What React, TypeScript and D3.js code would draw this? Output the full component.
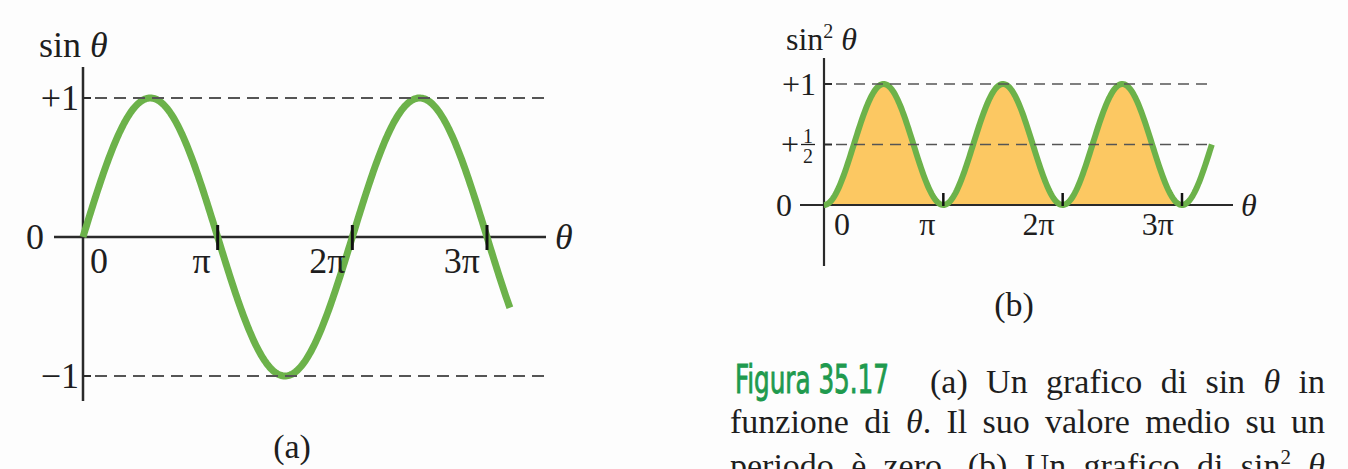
import React, { useLayoutEffect, useRef } from "react";
import * as d3 from "d3";

// Angles are given in multiples of π.
const tickMultiples = [1, 2, 3];
const tickLabels = ["π", "2π", "3π"];
const sinEnd = 3.17;
const sin2End = 3.25;
const sin2FillEnd = 3;
const sinGuideLevels = [1, -1];
const sinGuideLabels = ["+1", "−1"];
const sin2GuideLevels = [1, 0.5];

const captionTitle = "Figura 35.17";
const captionLine1 = ["(a) Un grafico di sin ", "θ", " in"];
const captionLine2 = ["funzione di ", "θ", ". Il suo valore medio su un"];
const captionLine3 = ["periodo è zero. (b) Un grafico di sin", "2", " ", "θ"];

const GREEN = "#6cb24a";
const ORANGE = "#fcc862";
const AXIS = "#2a2a2a";
const DASH = "#555";
const SERIF = "'Liberation Serif', 'Times New Roman', serif";
const INK = "#1e1e1e";

function samples(endMultiple: number, f: (t: number) => number) {
  const end = endMultiple * Math.PI;
  const pts = d3.range(0, end, end / 400).map((t) => [t, f(t)] as [number, number]);
  pts.push([end, f(end)]);
  return pts;
}

// A text line stretched to a given width by widening its word gaps.
function JustifiedLine(props: { x: number; y: number; width: number; children: React.ReactNode }) {
  const ref = useRef<SVGTextElement>(null);
  useLayoutEffect(() => {
    const el = ref.current;
    if (!el) return;
    el.setAttribute("word-spacing", "0");
    const natural = el.getComputedTextLength();
    const spaces = (el.textContent || "").split(" ").length - 1;
    if (spaces > 0) el.setAttribute("word-spacing", String((props.width - natural) / spaces));
  });
  return (
    <text ref={ref} x={props.x} y={props.y} style={{ whiteSpace: "pre" }}>
      {props.children}
    </text>
  );
}

function SinPanel() {
  const x = d3.scaleLinear().domain([0, 3 * Math.PI]).range([83, 487]);
  const y = d3.scaleLinear().domain([-1, 1]).range([376, 98]);
  const line = d3
    .line<[number, number]>()
    .x((d) => x(d[0]))
    .y((d) => y(d[1]));
  const pts = samples(sinEnd, Math.sin);
  const y0 = y(0);
  const fs = 36;
  return (
    <g fontFamily={SERIF} fill={INK}>
      <line x1={83} x2={83} y1={67} y2={401} stroke={AXIS} strokeWidth={2.5} />
      <line x1={54} x2={546} y1={y0} y2={y0} stroke={AXIS} strokeWidth={2.5} />
      <path d={line(pts) ?? ""} fill="none" stroke={GREEN} strokeWidth={7} />
      {sinGuideLevels.map((v) => (
        <g key={v}>
          <line x1={83} x2={91} y1={y(v)} y2={y(v)} stroke={AXIS} strokeWidth={2} />
          <line
            x1={95}
            x2={546}
            y1={y(v)}
            y2={y(v)}
            stroke={DASH}
            strokeWidth={1.8}
            strokeDasharray="12 7"
          />
        </g>
      ))}
      {tickMultiples.map((m, i) => (
        <g key={m}>
          <line
            x1={x(m * Math.PI)}
            x2={x(m * Math.PI)}
            y1={y0 - 12}
            y2={y0 + 13}
            stroke="#111"
            strokeWidth={3}
          />
          <text x={x(m * Math.PI) - 7} y={273} textAnchor="end" fontSize={fs}>
            {tickLabels[i]}
          </text>
        </g>
      ))}
      <text x={90} y={273} fontSize={fs}>
        0
      </text>
      {sinGuideLevels.map((v, i) => (
        <text key={v} x={79} y={y(v) + 12} textAnchor="end" fontSize={fs}>
          {sinGuideLabels[i]}
        </text>
      ))}
      <text x={44} y={y0 + 12} textAnchor="end" fontSize={fs}>
        0
      </text>
      <text x={39} y={57} fontSize={fs}>
        sin <tspan fontStyle="italic">θ</tspan>
      </text>
      <text x={555} y={y0 + 12} fontSize={fs} fontStyle="italic">
        θ
      </text>
      <text x={292} y={458} textAnchor="middle" fontSize={34}>
        (a)
      </text>
    </g>
  );
}

function Sin2Panel() {
  const x = d3.scaleLinear().domain([0, 3 * Math.PI]).range([824, 1182]);
  const y = d3.scaleLinear().domain([0, 1]).range([205, 84]);
  const f = (t: number) => Math.sin(t) ** 2;
  const line = d3
    .line<[number, number]>()
    .x((d) => x(d[0]))
    .y((d) => y(d[1]));
  const area = d3
    .area<[number, number]>()
    .x((d) => x(d[0]))
    .y0(y(0))
    .y1((d) => y(d[1]));
  const pts = samples(sin2End, f);
  const fillPts = samples(sin2FillEnd, f);
  const y0 = y(0);
  const fs = 32;
  return (
    <g fontFamily={SERIF} fill={INK}>
      <path d={area(fillPts) ?? ""} fill={ORANGE} />
      <line x1={824} x2={824} y1={58} y2={266} stroke={AXIS} strokeWidth={2.2} />
      <line x1={800} x2={1233} y1={y0} y2={y0} stroke={AXIS} strokeWidth={2.2} />
      <path d={line(pts) ?? ""} fill="none" stroke={GREEN} strokeWidth={6} />
      {sin2GuideLevels.map((v) => (
        <g key={v}>
          <line x1={824} x2={832} y1={y(v)} y2={y(v)} stroke={AXIS} strokeWidth={2} />
          <line
            x1={836}
            x2={1212}
            y1={y(v)}
            y2={y(v)}
            stroke={DASH}
            strokeWidth={1.7}
            strokeDasharray="11 7"
          />
        </g>
      ))}
      {tickMultiples.map((m, i) => (
        <g key={m}>
          <line
            x1={x(m * Math.PI)}
            x2={x(m * Math.PI)}
            y1={y0 - 12}
            y2={y0 + 1}
            stroke="#111"
            strokeWidth={2.5}
          />
          <text x={x(m * Math.PI) - 8} y={235} textAnchor="end" fontSize={fs}>
            {tickLabels[i]}
          </text>
        </g>
      ))}
      <text x={834} y={235} fontSize={fs}>
        0
      </text>
      <text x={816} y={y(1) + 11} textAnchor="end" fontSize={fs}>
        +1
      </text>
      {/* +½ label with a stacked fraction */}
      <text x={799} y={y(0.5) + 10} textAnchor="end" fontSize={fs}>
        +
      </text>
      <text x={808} y={y(0.5) - 2} textAnchor="middle" fontSize={20}>
        1
      </text>
      <line x1={801} x2={815} y1={y(0.5)} y2={y(0.5)} stroke={INK} strokeWidth={1.3} />
      <text x={808} y={y(0.5) + 18} textAnchor="middle" fontSize={20}>
        2
      </text>
      <text x={792} y={y0 + 11} textAnchor="end" fontSize={fs}>
        0
      </text>
      <text x={786} y={50} fontSize={fs}>
        sin
        <tspan dy={-12} fontSize={20}>
          2
        </tspan>
        <tspan dy={12}> </tspan>
        <tspan fontStyle="italic">θ</tspan>
      </text>
      <text x={1241} y={y0 + 11} fontSize={fs} fontStyle="italic">
        θ
      </text>
      <text x={1014} y={316} textAnchor="middle" fontSize={34}>
        (b)
      </text>
    </g>
  );
}

function Caption() {
  return (
    <g fill={INK} fontFamily={SERIF} fontSize={34}>
      <text
        x={735}
        y={393}
        fontFamily="'Liberation Sans Narrow', 'DejaVu Sans Condensed', sans-serif"
        fontSize={39}
        fill="#1f9a4e"
        stroke="#1f9a4e"
        strokeWidth={0.9}
        textLength={154}
        lengthAdjust="spacingAndGlyphs"
      >
        {captionTitle}
      </text>
      <JustifiedLine x={930} y={393} width={395}>
        {captionLine1[0]}
        <tspan fontStyle="italic">{captionLine1[1]}</tspan>
        {captionLine1[2]}
      </JustifiedLine>
      <JustifiedLine x={730} y={433} width={595}>
        {captionLine2[0]}
        <tspan fontStyle="italic">{captionLine2[1]}</tspan>
        {captionLine2[2]}
      </JustifiedLine>
      <JustifiedLine x={730} y={477} width={595}>
        {captionLine3[0]}
        <tspan dy={-13} fontSize={21}>
          {captionLine3[1]}
        </tspan>
        <tspan dy={13}>{captionLine3[2]}</tspan>
        <tspan fontStyle="italic">{captionLine3[3]}</tspan>
      </JustifiedLine>
    </g>
  );
}

export default function App() {
  return (
    <svg
      width={1348}
      height={469}
      viewBox="0 0 1348 469"
      style={{ position: "absolute", left: 0, top: 0, background: "#fdfdfd" }}
    >
      <rect width={1348} height={469} fill="#fdfdfd" />
      <SinPanel />
      <Sin2Panel />
      <Caption />
    </svg>
  );
}
